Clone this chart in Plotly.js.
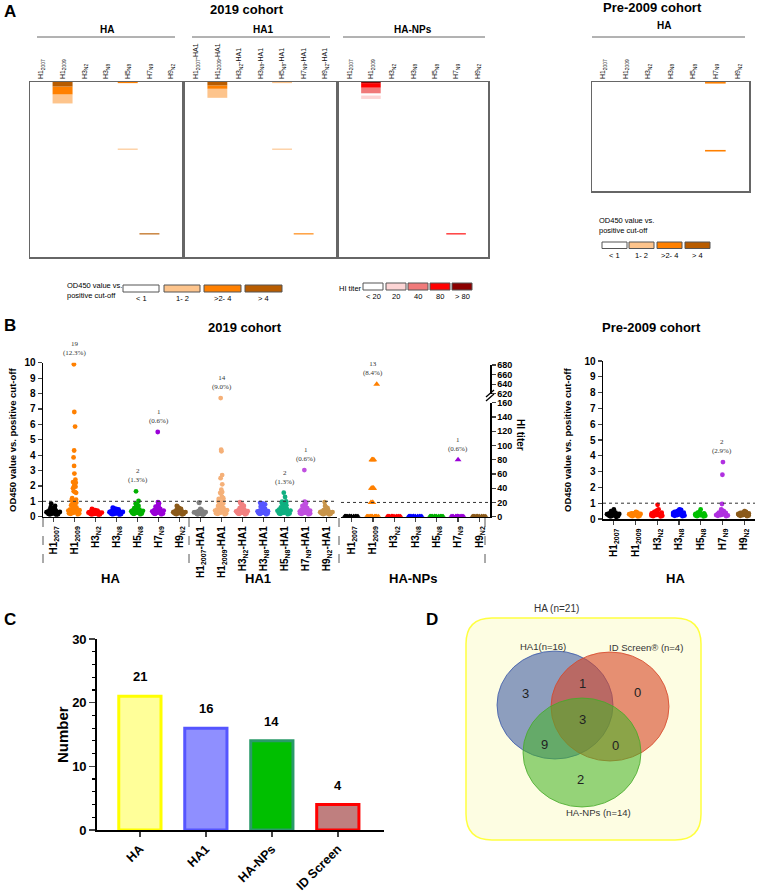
<!DOCTYPE html>
<html><head><meta charset="utf-8">
<script src="https://cdn.plot.ly/plotly-3.0.1.min.js"></script>
<style>html,body{margin:0;padding:0;background:#fff}#chart{width:760px;height:895px}</style>
</head><body><div id="chart"></div>
<script>
// ================= DATA =================
const antigens = ['H1<sub>2007</sub>','H1<sub>2009</sub>','H3<sub>N2</sub>','H3<sub>N8</sub>','H5<sub>N8</sub>','H7<sub>N9</sub>','H9<sub>N2</sub>'];
const antigensHA1 = ['H1<sub>2007</sub>-HA1','H1<sub>2009</sub>-HA1','H3<sub>N2</sub>-HA1','H3<sub>N8</sub>-HA1','H5<sub>N8</sub>-HA1','H7<sub>N9</sub>-HA1','H9<sub>N2</sub>-HA1'];
const n2019 = 155, nPre = 69;

// Panel A: positive samples per antigen column, as [firstRow, lastRow, level]
const heatHA   = [[], [[0,3,3],[4,10,2],[11,18,1]], [], [], [[0,0,2],[59,59,1]], [[134,134,3]], []];
const heatHA1  = [[], [[0,2,3],[3,5,2],[6,13,1]], [], [], [[0,0,1],[59,59,1]], [[134,134,2]], []];
const heatNP   = [[], [[0,0,4],[1,4,3],[5,9,2],[12,14,1]], [], [], [], [[134,134,3]], []];
const heatPre  = [[], [], [], [], [], [[0,0,2],[43,43,2]], []];
const odLevels = ['< 1','1- 2','>2- 4','> 4'];
const hiLevels = ['< 20','20','40','80','> 80'];

// Panel B: OD450 / cut-off, 2019 cohort, HA
const ha_H1_2007 = [0.12,0.14,0.16,0.18,0.2,0.21,0.22,0.24,0.25,0.26,0.28,0.29,0.3,0.31,0.32,0.34,0.35,0.36,0.38,0.4,0.42,0.44,0.46,0.5,0.53,0.58,0.62,0.7,0.85,0.27,0.23,0.33];
const ha_H1_2009 = [9.9,6.8,5.85,4.3,3.85,3.3,2.8,2.4,2.25,2.2,2.05,1.95,1.85,1.65,1.6,1.55,1.2,1.1,1.05,1.0,0.95,0.9,0.85,0.8,0.75,0.7,0.65,0.6,0.55,0.5,0.48,0.45,0.42,0.4,0.38,0.35,0.33,0.3,0.28,0.25,0.22,0.2,0.18,0.15,0.3,0.35,0.4,0.25];
const ha_H3N2 = [0.12,0.14,0.15,0.17,0.18,0.2,0.21,0.22,0.23,0.24,0.25,0.26,0.27,0.28,0.29,0.3,0.31,0.32,0.33,0.35,0.36,0.38,0.4,0.42,0.45,0.5,0.22,0.26,0.3,0.18];
const ha_H3N8 = [0.13,0.15,0.17,0.19,0.2,0.22,0.23,0.24,0.25,0.27,0.28,0.3,0.31,0.33,0.34,0.35,0.37,0.38,0.4,0.42,0.44,0.47,0.5,0.55,0.58,0.26,0.29,0.32,0.36,0.21];
const ha_H5N8 = [1.65,1.02,0.85,0.8,0.78,0.7,0.65,0.6,0.55,0.5,0.48,0.45,0.42,0.4,0.38,0.36,0.35,0.33,0.3,0.28,0.26,0.25,0.22,0.2,0.18,0.15,0.3,0.35,0.4,0.45,0.25,0.28];
const ha_H7N9 = [5.5,0.95,0.9,0.88,0.8,0.7,0.65,0.6,0.55,0.5,0.48,0.45,0.42,0.4,0.38,0.35,0.33,0.3,0.28,0.26,0.25,0.22,0.2,0.18,0.15,0.3,0.35,0.4,0.28,0.32];
const ha_H9N2 = [0.7,0.65,0.55,0.5,0.48,0.45,0.42,0.4,0.38,0.36,0.35,0.33,0.32,0.3,0.29,0.28,0.27,0.26,0.25,0.24,0.22,0.2,0.18,0.16,0.14,0.3,0.35,0.28,0.25,0.22];
// HA1
const ha1_H1_2007 = [0.92,0.9,0.5,0.45,0.42,0.4,0.38,0.36,0.35,0.33,0.32,0.3,0.3,0.29,0.28,0.27,0.26,0.25,0.24,0.22,0.2,0.18,0.16,0.14,0.12,0.3,0.28,0.25,0.22,0.35];
const ha1_H1_2009 = [7.7,4.35,4.25,2.7,2.5,2.1,1.75,1.6,1.55,1.5,1.3,1.2,1.15,1.05,0.98,0.95,0.9,0.85,0.8,0.75,0.7,0.65,0.6,0.55,0.5,0.48,0.45,0.42,0.4,0.38,0.35,0.32,0.3,0.28,0.25,0.22,0.2,0.18,0.15,0.35,0.4,0.3,0.25,0.45];
const ha1_H3N2 = [0.95,0.85,0.8,0.7,0.65,0.6,0.55,0.5,0.48,0.45,0.42,0.4,0.38,0.36,0.35,0.33,0.3,0.28,0.26,0.25,0.22,0.2,0.18,0.15,0.3,0.35,0.25,0.28,0.4,0.32];
const ha1_H3N8 = [0.9,0.88,0.85,0.8,0.75,0.7,0.65,0.6,0.55,0.5,0.45,0.42,0.4,0.38,0.36,0.35,0.33,0.3,0.28,0.26,0.25,0.22,0.2,0.18,0.15,0.3,0.35,0.25,0.28,0.32];
const ha1_H5N8 = [1.56,1.28,1.0,0.98,0.95,0.9,0.85,0.8,0.75,0.7,0.65,0.6,0.55,0.5,0.48,0.45,0.42,0.4,0.38,0.35,0.33,0.3,0.28,0.26,0.25,0.22,0.2,0.18,0.15,0.3,0.35,0.4,0.45,0.5,0.25];
const ha1_H7N9 = [3.03,0.98,0.95,0.9,0.85,0.8,0.7,0.65,0.6,0.55,0.5,0.48,0.45,0.42,0.4,0.38,0.35,0.33,0.3,0.28,0.26,0.25,0.22,0.2,0.18,0.15,0.3,0.35,0.25,0.28];
const ha1_H9N2 = [0.95,0.7,0.6,0.55,0.5,0.45,0.42,0.4,0.38,0.36,0.35,0.33,0.32,0.3,0.29,0.28,0.27,0.26,0.25,0.24,0.22,0.2,0.18,0.16,0.14,0.3,0.35,0.28,0.25,0.22];
// HA-NPs, HI titer (negatives plotted at 0)
const np_H1_2007 = [0,0,0,0,0,0,0,0,0,0,0,0,0,0,0,0,0,0,0,0];
const np_H1_2009 = [640,80,80,80,80,40,40,40,40,40,20,20,20,0,0,0,0,0,0,0,0,0,0,0,0,0,0,0,0,0];
const np_H3N2 = [0,0,0,0,0,0,0,0,0,0,0,0,0,0,0,0,0,0,0,0];
const np_H3N8 = [0,0,0,0,0,0,0,0,0,0,0,0,0,0,0,0,0,0,0,0];
const np_H5N8 = [0,0,0,0,0,0,0,0,0,0,0,0,0,0,0,0,0,0,0,0];
const np_H7N9 = [80,0,0,0,0,0,0,0,0,0,0,0,0,0,0,0,0,0,0,0];
const np_H9N2 = [0,0,0,0,0,0,0,0,0,0,0,0,0,0,0,0,0,0,0,0];
// Pre-2009 cohort, HA
const pre_H1_2007 = [0.6,0.5,0.45,0.42,0.4,0.38,0.35,0.33,0.3,0.3,0.28,0.27,0.26,0.25,0.24,0.22,0.2,0.18,0.16,0.14,0.3,0.25,0.28,0.32,0.35];
const pre_H1_2009 = [0.45,0.4,0.38,0.36,0.35,0.33,0.32,0.3,0.29,0.28,0.27,0.26,0.25,0.24,0.22,0.2,0.18,0.16,0.3,0.25,0.28,0.32];
const pre_H3N2 = [0.9,0.6,0.55,0.5,0.45,0.4,0.38,0.35,0.33,0.3,0.28,0.26,0.25,0.22,0.2,0.18,0.16,0.3,0.25,0.35,0.4,0.28];
const pre_H3N8 = [0.6,0.58,0.55,0.5,0.45,0.42,0.4,0.38,0.35,0.33,0.3,0.28,0.26,0.25,0.22,0.2,0.18,0.3,0.35,0.25,0.4,0.28];
const pre_H5N8 = [0.6,0.45,0.4,0.38,0.35,0.33,0.3,0.28,0.27,0.26,0.25,0.24,0.22,0.2,0.18,0.16,0.3,0.25,0.28,0.32];
const pre_H7N9 = [3.6,2.8,0.95,0.6,0.55,0.5,0.45,0.4,0.38,0.35,0.33,0.3,0.28,0.26,0.25,0.22,0.2,0.18,0.3,0.35,0.25];
const pre_H9N2 = [0.5,0.45,0.42,0.4,0.38,0.36,0.35,0.33,0.32,0.3,0.29,0.28,0.27,0.26,0.25,0.24,0.22,0.2,0.18,0.3,0.28,0.25];
// positive counts and percentages
const posHA = [0,19,0,0,2,1,0],  pctHA = [0,12.3,0,0,1.3,0.6,0];
const posHA1 = [0,14,0,0,2,1,0], pctHA1 = [0,9.0,0,0,1.3,0.6,0];
const posNP = [0,13,0,0,0,1,0],  pctNP = [0,8.4,0,0,0,0.6,0];
const posPre = [0,0,0,0,0,2,0],  pctPre = [0,0,0,0,0,2.9,0];

// Panel C
const methods = ['HA','HA1','HA-NPs','ID Screen'];
const positives = [21,16,14,4];
// Panel D (Venn regions: HA1 only, HA1&ID, ID only, all three, HA1&NP, ID&NP, NP only)
const vennCounts = [3,1,0,3,9,0,2];
const vennSets = ['HA1','ID Screen®','HA-NPs'];
const vennSizes = [16,4,14];
const vennTotal = 21;

// ================= STYLE / HELPERS =================
const W = 760, H = 895;
const X = p => p / W, Y = p => 1 - p / H;
const FONT = 'Arial, Liberation Sans, sans-serif';
const odColors = ['#ffffff','#fdc48c','#ff8000','#b85c00'];
const hiColors = ['#ffffff','#fdd5d5','#f07a7a','#ff0000','#8b0000'];
const colHA  = ['#000000','#ff8000','#ff0000','#0000ff','#00b000','#9a00d8','#8b5a1a'];
const colHA1 = ['#808080','#f5b078','#f28080','#5555ff','#10b080','#c050e0','#c8944a'];
const colPre = ['#000000','#ff8000','#ff0000','#0000ff','#00c000','#b030e0','#8b5a1a'];
const barFill = ['#ffff99','#8f8fff','#00bf00','#bf7f7f'];
const barLine = ['#ffff00','#5555ff','#2a9a6a','#ff0000'];

const traces = [];
// heat-map cells drawn as bars: x = antigen column, base/height in sample-row units
function heatBars(runs, n, labels, cols, xa, ya){
  const byLevel = cols.map(()=>({x:[], base:[], y:[]}));
  labels.forEach((lab)=>{ byLevel[0].x.push(lab); byLevel[0].base.push(-0.5); byLevel[0].y.push(n); });
  runs.forEach((colRuns,c)=>colRuns.forEach(([a,b,l])=>{
    byLevel[l].x.push(labels[c]); byLevel[l].base.push(a-0.5); byLevel[l].y.push(b-a+1);
  }));
  byLevel.forEach((d,l)=>{ if(!d.x.length) return;
    traces.push({type:'bar', x:d.x, y:d.y, base:d.base, width: l===0?1:0.92, xaxis:xa, yaxis:ya,
      marker:{color:cols[l], line:{width:0}}, hoverinfo:'skip', showlegend:false});
  });
}
heatBars(heatHA, n2019, antigens, odColors, 'x', 'y');
heatBars(heatHA1, n2019, antigensHA1, odColors, 'x2', 'y2');
heatBars(heatNP, n2019, antigens, hiColors, 'x3', 'y3');
heatBars(heatPre, nPre, antigens, odColors, 'x4', 'y4');

function dots(y, name, color, xa, ya, symbol, size){
  traces.push({type:'box', y, name, xaxis:xa, yaxis:ya, boxpoints:'all', jitter:1, pointpos:0,
    marker:{color, size: size||4.8, symbol: symbol||'circle', line:{width:0}},
    line:{width:0, color:'rgba(0,0,0,0)'}, fillcolor:'rgba(0,0,0,0)', whiskerwidth:0,
    hoverinfo:'y', showlegend:false});
}
const haSets = [ha_H1_2007, ha_H1_2009, ha_H3N2, ha_H3N8, ha_H5N8, ha_H7N9, ha_H9N2];
const ha1Sets = [ha1_H1_2007, ha1_H1_2009, ha1_H3N2, ha1_H3N8, ha1_H5N8, ha1_H7N9, ha1_H9N2];
const npSets = [np_H1_2007, np_H1_2009, np_H3N2, np_H3N8, np_H5N8, np_H7N9, np_H9N2];
const preSets = [pre_H1_2007, pre_H1_2009, pre_H3N2, pre_H3N8, pre_H5N8, pre_H7N9, pre_H9N2];
haSets.forEach((s,i)=>dots(s, antigens[i], colHA[i], 'x5', 'y5'));
ha1Sets.forEach((s,i)=>dots(s, antigensHA1[i], colHA1[i], 'x5', 'y5'));
npSets.forEach((s,i)=>{
  dots(s.filter(v=>v<=160), antigens[i], colHA[i], 'x6', 'y6', 'triangle-up', 6);
  const hi = s.filter(v=>v>160);
  if (hi.length) dots(hi, antigens[i], colHA[i], 'x6', 'y7', 'triangle-up', 6);
});
preSets.forEach((s,i)=>dots(s, antigens[i], colPre[i], 'x7', 'y8'));

traces.push({type:'bar', x: methods, y: positives, xaxis:'x8', yaxis:'y9',
  marker:{color: barFill, line:{color: barLine, width:3}}, hoverinfo:'x+y', showlegend:false});

// ================= AXES =================
function heatX(a,b,anchor,labels){ return {domain:[X(a),X(b)], anchor, side:'top', tickangle:-90, ticks:'',
  type:'category', categoryorder:'array', categoryarray:labels, range:[-0.5,6.5],
  tickfont:{size:7, family:FONT, color:'#111'}, showline:true, mirror:true, linecolor:'#666', linewidth:1.5,
  showgrid:false, zeroline:false, fixedrange:true}; }
function heatY(top,bot,n,anchor){ return {domain:[Y(bot),Y(top)], anchor, range:[n-0.5,-0.5], showticklabels:false, ticks:'',
  showline:true, mirror:true, linecolor:'#666', linewidth:1.5, showgrid:false, zeroline:false, fixedrange:true}; }
const tf = (s)=>({size:s, family:FONT, color:'#000', weight:'bold'});
function catX(a,b,anchor,n){ return {domain:[X(a),X(b)], anchor, range:[-0.5,n-0.5], tickangle:-90, ticks:'outside', ticklen:4, tickwidth:1.2,
  tickfont:tf(10), showline:true, linecolor:'#000', linewidth:1.5, showgrid:false, zeroline:false, fixedrange:true}; }
function valY(top,bot,anchor,r,dt,side,fs){ return {domain:[Y(bot),Y(top)], anchor, range:r, dtick:dt, side:side||'left', ticks:'outside', ticklen:4, tickwidth:1.2,
  tickfont:tf(fs||10), showline:true, linecolor:'#000', linewidth:1.5, showgrid:false, zeroline:false, fixedrange:true}; }

const layout = {
  width: W, height: H, margin:{l:0,r:0,t:0,b:0}, paper_bgcolor:'#fff', plot_bgcolor:'rgba(0,0,0,0)',
  showlegend:false, boxgap:0.02, bargap:0.36, barmode:'overlay', font:{family:FONT},
  xaxis: heatX(30,182,'y',antigens),  yaxis: heatY(82,257,n2019,'x'),
  xaxis2: heatX(185,336,'y2',antigensHA1), yaxis2: heatY(82,257,n2019,'x2'),
  xaxis3: heatX(339,488,'y3',antigens), yaxis3: heatY(82,257,n2019,'x3'),
  xaxis4: heatX(592,749,'y4',antigens), yaxis4: heatY(82,191,nPre,'x4'),
  xaxis5: catX(43,337,'y5',14), yaxis5: valY(362.7,516.7,'x5',[0,10],1),
  xaxis6: catX(341,490,'y6',7), yaxis6: valY(402.7,516.7,'x6',[0,160],20,'right',9),
  yaxis7: valY(365,393.7,'x6',[620,680],20,'right',9),
  xaxis7: catX(603,755,'y8',7), yaxis8: valY(361,519,'x7',[0,10],1),
  xaxis8: {domain:[X(97),X(384)], anchor:'y9', range:[-0.65,3.7], tickangle:-45, ticks:'outside', ticklen:5, tickwidth:1.5,
    tickfont:tf(12.5), showline:true, linecolor:'#000', linewidth:1.8, showgrid:false, zeroline:false, fixedrange:true},
  yaxis9: {domain:[Y(830),Y(639)], anchor:'x8', range:[0,30], dtick:10, ticks:'outside', ticklen:6, tickwidth:1.5,
    minor:{dtick:2, ticks:'outside', ticklen:3, tickwidth:1.2, tickcolor:'#000'},
    tickfont:tf(13), showline:true, linecolor:'#000', linewidth:1.8, showgrid:false, zeroline:false, fixedrange:true},
  shapes: [], annotations: []
};

const A = layout.annotations, S = layout.shapes;
function ann(text,x,y,size,o){ A.push(Object.assign({text, x:X(x), y:Y(y), xref:'paper', yref:'paper', showarrow:false,
  xanchor:'center', yanchor:'middle', font:{family:FONT, size, color:'#000', weight:'normal'}}, o||{})); }
function bold(text,x,y,size,o){ ann(text,x,y,size,o); A[A.length-1].font.weight='bold'; }
function line(x0,y0,x1,y1,color,width,dash){ S.push({type:'line', xref:'paper', yref:'paper', x0:X(x0), y0:Y(y0), x1:X(x1), y1:Y(y1),
  line:{color, width, dash: dash||'solid'}}); }
function rect(x0,y0,x1,y1,fill,lc){ S.push({type:'rect', xref:'paper', yref:'paper', x0:X(x0), y0:Y(y0), x1:X(x1), y1:Y(y1),
  fillcolor:fill, line:{color:lc, width:1}}); }

// ---- Panel A ----
bold('A',10,11,17); bold('2019 cohort',247,9,13); bold('Pre-2009 cohort',652,8,13);
bold('HA',107,29,10); bold('HA1',263,29,10); bold('HA-NPs',413,29,10); bold('HA',664,25,10);
line(37,37,175,37,'#666',1); line(192,37,330,37,'#666',1); line(343,37,485,37,'#666',1); line(592,37,745,37,'#666',1);
// legends
ann('OD450 value vs.<br>positive cut-off',65,290.5,7.5,{xanchor:'left', align:'left'});
[[123,159],[164,200],[204,241],[245,282]].forEach((b,i)=>{ rect(b[0],285,b[1],292,odColors[i],'#555'); ann(odLevels[i],(b[0]+b[1])/2,298,7.5); });
ann('HI titer',337,289,7.5,{xanchor:'left'});
[[363,383],[386,406],[408,428],[430,450],[452,472]].forEach((b,i)=>{ rect(b[0],283,b[1],290,hiColors[i],'#555'); ann(hiLevels[i],(b[0]+b[1])/2,297,7.5); });
ann('OD450 value vs.<br>positive cut-off',597,225.5,7.5,{xanchor:'left', align:'left'});
[[602,627],[629,654],[657,682],[685,710]].forEach((b,i)=>{ rect(b[0],242,b[1],248.5,odColors[i],'#555'); ann(odLevels[i],(b[0]+b[1])/2,256,7.5); });

// ---- Panel B ----
bold('B',10,326,17); bold('2019 cohort',245,327,13); bold('Pre-2009 cohort',651,327,13);
bold('OD450 value vs. positive cut-off',13,440,9.5,{textangle:-90});
bold('HI titer',521,435,10,{textangle:90});
bold('OD450 value vs. positive cut-off',568,440,9.5,{textangle:-90});
line(486,401,494,394,'#000',1.3); line(486,397,494,390,'#000',1.3);
bold('HA',110,578,13); bold('HA1',258,578,13); bold('HA-NPs',413,578,13); bold('HA',675,578,13);
[43,189,339,485].forEach(x=>line(x,518,x,569,'#444',0.9,'dash'));
S.push({type:'line', xref:'x5 domain', yref:'y5', x0:0, x1:1, y0:1, y1:1, line:{color:'#333', width:1, dash:'dot'}});
S.push({type:'line', xref:'x6 domain', yref:'y6', x0:0, x1:1, y0:20, y1:20, line:{color:'#333', width:1, dash:'dot'}});
S.push({type:'line', xref:'x7 domain', yref:'y8', x0:0, x1:1, y0:1, y1:1, line:{color:'#333', width:1, dash:'dot'}});
function countAnn(pos,pct,sets,labels,xa,ya,limit,ya2){
  pos.forEach((p,i)=>{ if(!p) return;
    const mx = Math.max(...sets[i]); const useHi = limit && mx>limit;
    A.push({text: p+'<br>('+pct[i].toFixed(1)+'%)', x: labels[i], y: mx, xref: xa, yref: useHi?ya2:ya, showarrow:false,
      yanchor:'bottom', yshift:5, font:{family:'Liberation Serif, serif', size:7, color:'#333'}});
  });
}
countAnn(posHA,pctHA,haSets,antigens,'x5','y5');
countAnn(posHA1,pctHA1,ha1Sets,antigensHA1,'x5','y5');
countAnn(posNP,pctNP,npSets,antigens,'x6','y6',160,'y7');
countAnn(posPre,pctPre,preSets,antigens,'x7','y8');

// ---- Panel C ----
bold('C',10,619,17);
bold('Number',62,735,15,{textangle:-90});
positives.forEach((v,i)=>A.push({text:String(v), x:methods[i], y:v, xref:'x8', yref:'y9', showarrow:false,
  yanchor:'bottom', yshift:10, font:{family:FONT, size:13, color:'#000', weight:'bold'}}));

// ---- Panel D ----
bold('D',432,619,17);
(function(){
  const x0=466,x1=701,y0=618,y1=840,r=26;
  const p = (x,y)=>X(x)+','+Y(y);
  S.push({type:'path', xref:'paper', yref:'paper', fillcolor:'#fdfde2', line:{color:'#ffff40', width:1.5},
    path:'M'+p(x0+r,y0)+' L'+p(x1-r,y0)+' Q'+p(x1,y0)+' '+p(x1,y0+r)+' L'+p(x1,y1-r)+' Q'+p(x1,y1)+' '+p(x1-r,y1)+
      ' L'+p(x0+r,y1)+' Q'+p(x0,y1)+' '+p(x0,y1-r)+' L'+p(x0,y0+r)+' Q'+p(x0,y0)+' '+p(x0+r,y0)+' Z'});
  const circ=(a,b,c,d,fill,lc)=>S.push({type:'circle', xref:'paper', yref:'paper', x0:X(a), x1:X(b), y0:Y(d), y1:Y(c), fillcolor:fill, line:{color:lc, width:1}});
  circ(497,613,651,759,'rgba(50,80,160,0.55)','rgba(60,90,170,0.8)');
  circ(551,669,652,761,'rgba(215,70,40,0.6)','rgba(215,70,40,0.8)');
  circ(523,641,698,807,'rgba(70,180,40,0.57)','rgba(70,170,40,0.8)');
  ann('HA (n='+vennTotal+')',556,608,10,{font:{family:FONT,size:10,color:'#333'}});
  ann(vennSets[0]+'(n='+vennSizes[0]+')',543,646,9.5,{font:{family:FONT,size:9.5,color:'#333'}});
  ann(vennSets[1]+' (n='+vennSizes[1]+')',646,647,9.5,{font:{family:FONT,size:9.5,color:'#333'}});
  ann(vennSets[2]+' (n='+vennSizes[2]+')',598,812,9.5,{font:{family:FONT,size:9.5,color:'#333'}});
  const pos = [[525,693],[582,683],[637,692],[582,719],[544,744],[615,745],[580,779]];
  vennCounts.forEach((v,i)=>ann(String(v),pos[i][0],pos[i][1],13,{font:{family:FONT,size:13,color:'#222'}}));
})();

Plotly.newPlot('chart', traces, layout, {staticPlot:true, displayModeBar:false});
</script></body></html>
